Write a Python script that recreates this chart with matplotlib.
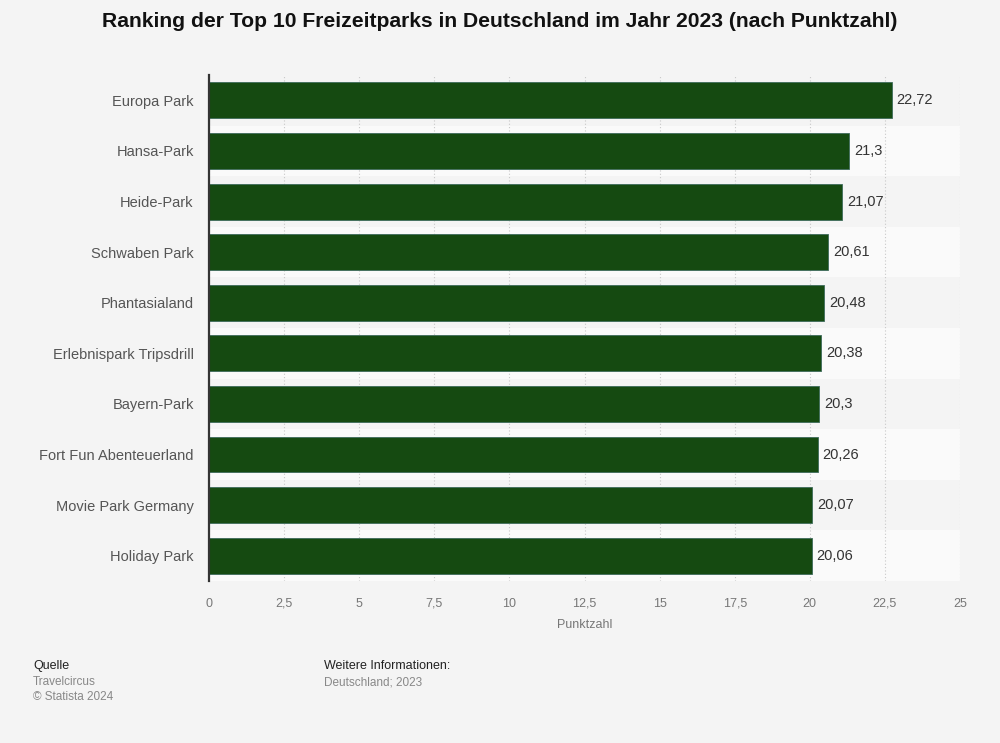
import matplotlib.pyplot as plt
from matplotlib.ticker import FuncFormatter

# Data
parks = ['Europa Park', 'Hansa-Park', 'Heide-Park', 'Schwaben Park', 'Phantasialand',
         'Erlebnispark Tripsdrill', 'Bayern-Park', 'Fort Fun Abenteuerland',
         'Movie Park Germany', 'Holiday Park']
scores = [22.72, 21.3, 21.07, 20.61, 20.48, 20.38, 20.3, 20.26, 20.07, 20.06]
xticks = [0, 2.5, 5, 7.5, 10, 12.5, 15, 17.5, 20, 22.5, 25]

plt.rcParams['font.family'] = ['Liberation Sans', 'DejaVu Sans']

bg = '#f4f4f4'
fig = plt.figure(figsize=(10, 7.43), dpi=100, facecolor=bg)
ax = fig.add_axes([0.209, 0.218, 0.751, 0.681])
ax.set_facecolor(bg)

n = len(parks)
pos = list(range(n))

# alternating row bands
for i in pos:
    ax.axhspan(i - 0.5, i + 0.5, color=bg if i % 2 == 0 else '#fafafa', zorder=0, lw=0)

ax.barh(pos, scores, height=0.71, color='#154a11', edgecolor='#3d6b5a', linewidth=0.6, zorder=3)

for p, v in zip(pos, scores):
    ax.text(v + 0.17, p, f'{v:g}'.replace('.', ','), va='center', ha='left',
            fontsize=10.5, color='#333333', zorder=4)

ax.set_xlim(0, 25)
ax.set_ylim(n - 0.5, -0.5)
ax.set_yticks(pos)
ax.set_yticklabels(parks, fontsize=10.5, color='#555555')
ax.set_xticks(xticks)
ax.xaxis.set_major_formatter(FuncFormatter(lambda x, _: f'{x:g}'.replace('.', ',')))
ax.tick_params(axis='x', length=0, labelsize=9, labelcolor='#777777', pad=12)
ax.tick_params(axis='y', length=0, pad=11)

ax.grid(axis='x', linestyle=(0, (1, 2)), color='#c8c8c8', linewidth=0.8, zorder=1)
ax.set_axisbelow(True)

for s in ['top', 'right', 'bottom']:
    ax.spines[s].set_visible(False)
ax.spines['left'].set_color('#333333')
ax.spines['left'].set_linewidth(1.6)
ax.spines['left'].set_zorder(5)

ax.set_xlabel('Punktzahl', fontsize=9, color='#777777', labelpad=7)

fig.text(0.5, 0.971, 'Ranking der Top 10 Freizeitparks in Deutschland im Jahr 2023 (nach Punktzahl)',
         ha='center', va='center', fontsize=15.2, fontweight='bold', color='#111111')

fig.text(0.033, 0.104, 'Quelle', fontsize=9, color='#222222', va='center')
fig.text(0.033, 0.082, 'Travelcircus', fontsize=8.5, color='#888888', va='center')
fig.text(0.033, 0.062, '© Statista 2024', fontsize=8.5, color='#888888', va='center')
fig.text(0.324, 0.104, 'Weitere Informationen:', fontsize=9, color='#222222', va='center')
fig.text(0.324, 0.082, 'Deutschland; 2023', fontsize=8.5, color='#888888', va='center')

fig.savefig('out.png', dpi=100, facecolor=bg)
